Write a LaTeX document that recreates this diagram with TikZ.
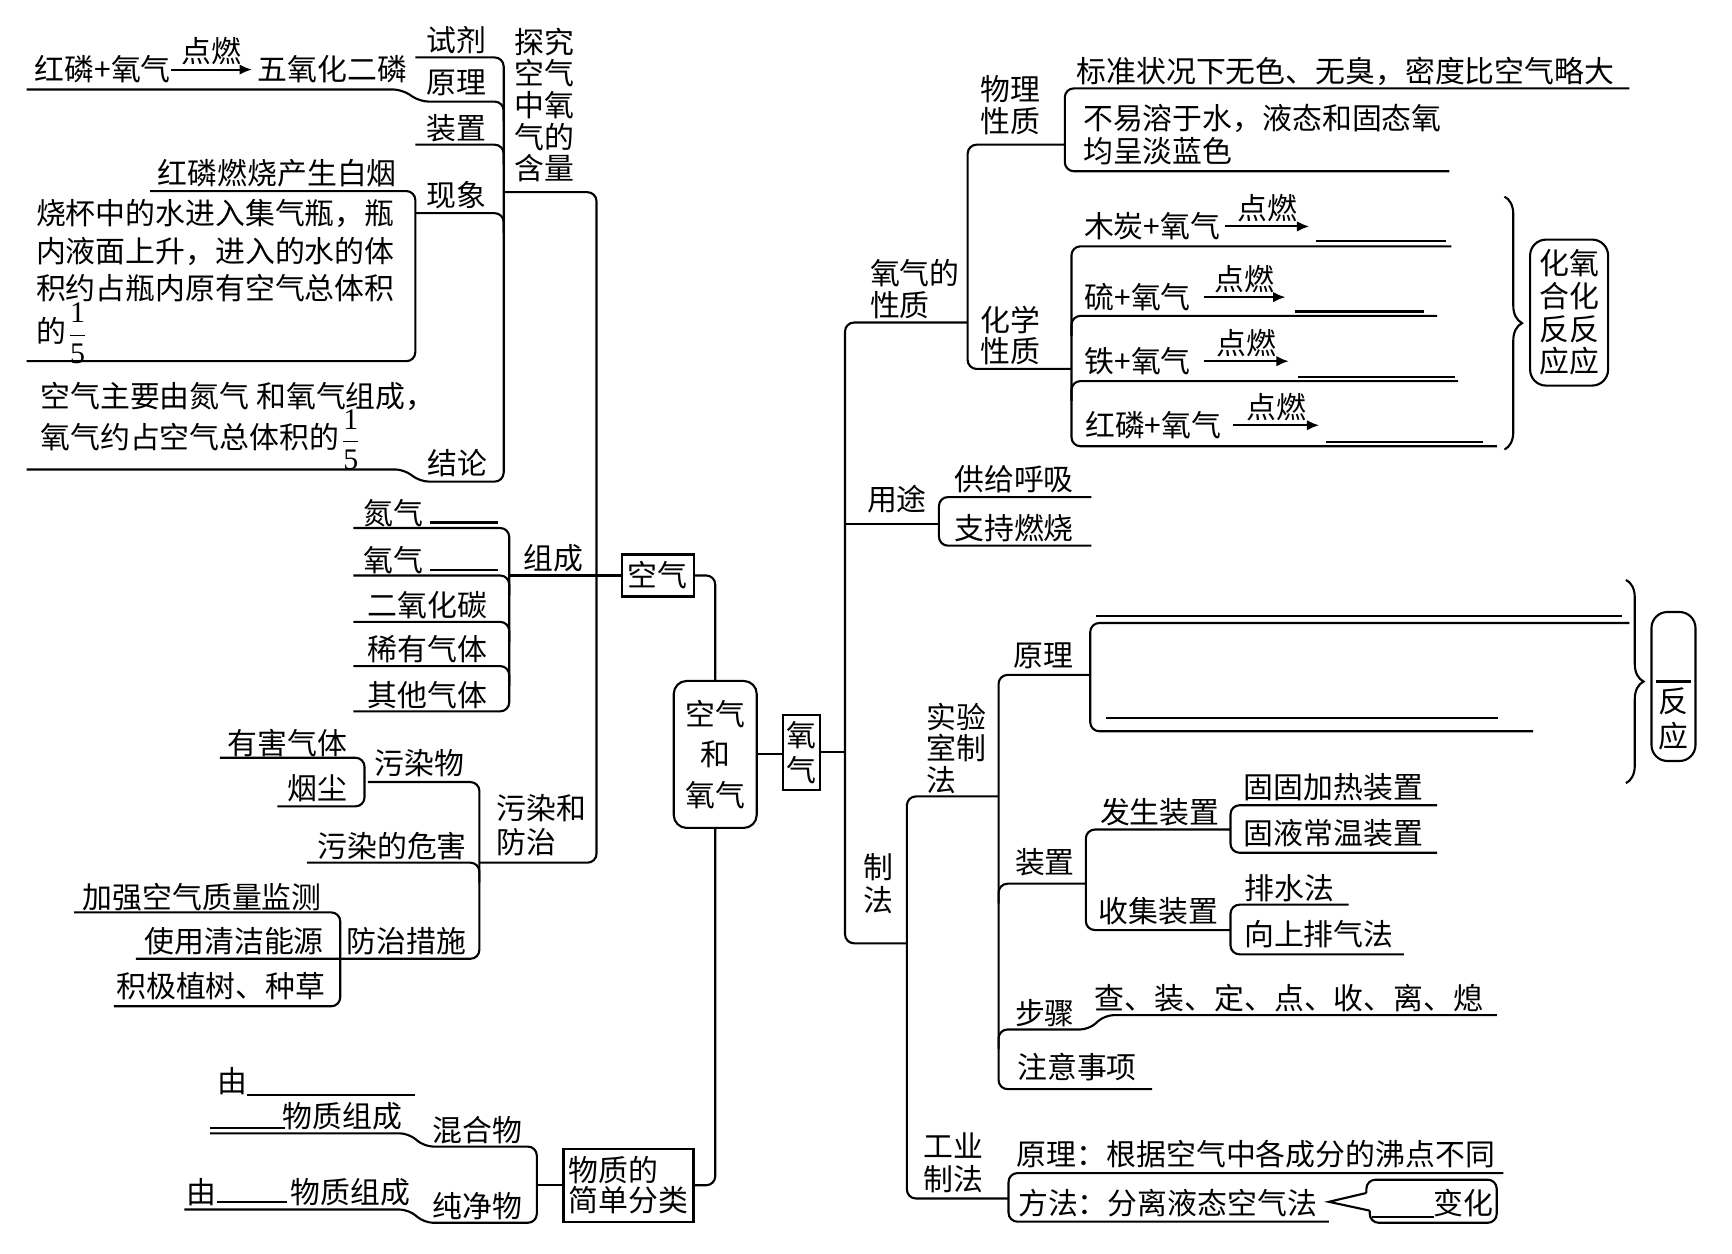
\documentclass[tikz,border=0pt]{standalone}
\usepackage{amsmath}
\usepackage{fontspec}
\setmainfont{Noto Sans CJK SC}
\newfontfamily\digfont{Liberation Serif}
\newcommand{\kfifth}{$\dfrac{\text{\digfont 1}}{\text{\digfont 5}}$}
\usetikzlibrary{arrows.meta,decorations.pathreplacing}

\tikzset{kz/.style={font=\fontsize{8.5}{9.3}\selectfont,inner sep=0pt,align=center},
         kzl/.style={kz,align=left,anchor=west},
         kbox/.style={kz,draw,line width=0.6pt},
         kln/.style={line width=0.6pt,rounded corners=0.9mm},
         kblank/.style={line width=0.6pt},
         kfire/.style={line width=0.6pt,-{Latex[length=3.5pt,width=3pt]}},
         kbrace/.style={line width=0.6pt,decorate,decoration={brace,amplitude=5pt}}}

\begin{document}
\begin{tikzpicture}[x=0.11046mm,y=-0.11046mm]
  \useasboundingbox (0,0) rectangle (1568,1135);
  % centre boxes
  \node[kbox,rounded corners=1.3mm,minimum width=8.3mm,minimum height=14.7mm,font=\fontsize{8.5}{11.5}\selectfont] (kqyq) at (647.5,683) {空气\\和\\氧气};
  \node[kbox,minimum width=3.65mm,minimum height=7.5mm,font=\fontsize{8.5}{10}\selectfont] (yq) at (725.5,681) {氧\\气};
  \node[kbox,minimum width=7.2mm,minimum height=4.2mm] (kq) at (595.5,521) {空气};
  \node[kbox,align=left,minimum width=13mm,minimum height=7.3mm,font=\fontsize{8.5}{8.6}\selectfont] (wzfl) at (569,1073) {物质的\\简单分类};
  \coordinate (rsp) at (765,683);
  \draw[kln] (kq.east) -| (kqyq.north);
  \draw[kln] (kqyq.south) |- (wzfl.east);
  \draw[kln] (kqyq.east) -- (kqyq.east -| yq.west);
  \draw[kln] (yq.east) -- (yq.east -| rsp);

  % ---------- left: air ----------
  \draw[kln] (456,174) -- (540,174) -- (540,781) -- (434,781);
  \draw[kln] (kq.west) -- (461,521);
  % explore oxygen content
  \node[kz,font=\fontsize{8.5}{9}\selectfont] (tj) at (493,95) {探究\\空气\\中氧\\气的\\含量};
  \node[kz] (sj) at (413,36) {试剂};
  \node[kz] (yl1) at (413,75) {原理};
  \node[kz] (zz1) at (413,116) {装置};
  \node[kz] (xx) at (413,177) {现象};
  \node[kz] (jl) at (414,419) {结论};
  \node[kz] (hl1) at (93,63) {红磷+氧气};
  \node[kz] (wy) at (301,63) {五氧化二磷};
  \draw[kfire] (hl1.east) -- ([xshift=-1.5pt]wy.west) node[midway,above=1pt,kz] (dr1) {点燃};
  \draw[kln] (376,52) -- (456,52) -- (456,436) -- (380,436) -- (366,425) -- (24,425);
  \draw[kln] (24,81) -- (364,81) -- (380,92) -- (456,92) -- (456,110);
  \foreach \y in {131,193} \draw[kln] (376,\y) -- (456,\y) -- (456,{\y+18});
  \node[kz] (xx1) at (251,157) {红磷燃烧产生白烟};
  \node[kzl,font=\fontsize{8.5}{10.7}\selectfont] (xx2) at (32,227) {烧杯中的水进入集气瓶，瓶\\内液面上升，进入的水的体\\积约占瓶内原有空气总体积};
  \node[kzl] (xx3) at (32,302) {的\kfifth};
  \draw[kln] (136,173) -- (376,173) -- (376,327) -- (24,327);
  \node[kzl] (jl1) at (36,359) {空气主要由氮气 和氧气组成，};
  \node[kzl] (jl2) at (36,398) {氧气约占空气总体积的\kfifth};
  % composition
  \node[kz] (zc) at (501,505) {组成};
  \node[kz] (dq) at (356,465) {氮气};
  \node[kz] (oq) at (356,507) {氧气};
  \node[kz] (eyht) at (387,548) {二氧化碳};
  \node[kz] (xyqt) at (387,588) {稀有气体};
  \node[kz] (qtqt) at (387,629) {其他气体};
  \draw[kblank] (389,473) -- (451,473);
  \draw[kblank] (389,516) -- (451,516);
  \draw[kln] (320,478) -- (461,478) -- (461,644) -- (320,644);
  \foreach \y in {521,563,603} \draw[kln] (320,\y) -- (461,\y) -- (461,{\y+18});
  % pollution
  \node[kzl,font=\fontsize{8.5}{9.4}\selectfont] (wrfz) at (449,747) {污染和\\防治};
  \node[kz] (wrw) at (380,691) {污染物};
  \node[kz] (yhqt) at (260,673) {有害气体};
  \node[kz] (yc) at (287,714) {烟尘};
  \node[kz] (wrwh) at (355,766) {污染的危害};
  \node[kz] (fzcs) at (368,852) {防治措施};
  \node[kz] (jq) at (183,812) {加强空气质量监测};
  \node[kz] (qj) at (212,852) {使用清洁能源};
  \node[kz] (zs) at (200,893) {积极植树、种草};
  \draw[kln] (333,708) -- (434,708) -- (434,868) -- (123,868);
  \draw[kln] (278,781) -- (434,781) -- (434,799);
  \draw[kln] (199,686) -- (330,686) -- (330,730) -- (251,730);
  \draw[kln] (67,826) -- (308,826) -- (308,911) -- (103,911);
  % classification
  \node[kz] (hhw) at (432,1023) {混合物};
  \node[kz] (cjw) at (432,1092) {纯净物};
  \node[kz] (you1) at (210,979) {由};
  \node[kz] (zc1) at (310,1011) {物质组成};
  \node[kz] (you2) at (182,1079) {由};
  \node[kz] (zc2) at (317,1079) {物质组成};
  \draw[kblank] (224,991) -- (376,991);
  \draw[kblank] (190,1021) -- (258,1021);
  \draw[kblank] (196,1088) -- (260,1088);
  \draw[kln] (190,1026) -- (370,1026) -- (384,1038) -- (486,1038) -- (486,1107) -- (384,1107) -- (370,1095) -- (167,1095);
  \draw[kln] (wzfl.west) -- (486,1073);

  % ---------- right: oxygen ----------
  \draw[kln] (876,292) -- (765,292) -- (765,854) -- (821,854);
  \draw[kln] (765,474) -- (850,474);
  % properties
  \node[kzl,font=\fontsize{8.5}{9}\selectfont] (yqxz) at (787,261.5) {氧气的\\性质};
  \node[kz,font=\fontsize{8.5}{9.1}\selectfont] (wlxz) at (915,95.5) {物理\\性质};
  \node[kz,font=\fontsize{8.5}{8.8}\selectfont] (hxxz) at (915,304) {化学\\性质};
  \node[kz] (wl1) at (1218,65) {标准状况下无色、无臭，密度比空气略大};
  \node[kzl,font=\fontsize{8.5}{9.4}\selectfont] (wl2) at (980,122) {不易溶于水，液态和固态氧\\均呈淡蓝色};
  \draw[kln] (964,131) -- (876,131) -- (876,334) -- (970,334);
  \draw[kln] (1475,80) -- (964,80) -- (964,155) -- (1312,155);
  \draw[kln] (1314,223) -- (970,223) -- (970,404) -- (1355,404);
  \foreach \xe/\y in {1301/286,1320/345} \draw[kln] (\xe,\y) -- (970,\y) -- (970,{\y+18});
  \node[kz] (mt) at (1043,205) {木炭+氧气};
  \node[kz] (ll) at (1030,269) {硫+氧气};
  \node[kz] (tt) at (1030,327) {铁+氧气};
  \node[kz] (hl2) at (1044,385) {红磷+氧气};
  \draw[kfire] (mt.east) ++(4,0) -- ++(76,0) node[midway,above=1pt,kz] (dr2) {点燃};
  \draw[kfire] (ll.east) ++(11,0) -- ++(74,0) node[midway,above=1pt,kz] (dr3) {点燃};
  \draw[kfire] (tt.east) ++(11,0) -- ++(77,0) node[midway,above=1pt,kz] (dr4) {点燃};
  \draw[kfire] (hl2.east) ++(10,0) -- ++(78,0) node[midway,above=1pt,kz] (dr5) {点燃};
  \draw[kblank] (1191,218) -- (1309,218);
  \draw[kblank] (1172,282) -- (1289,282);
  \draw[kblank] (1175,341) -- (1317,341);
  \draw[kblank] (1200,400) -- (1343,400);
  \draw[kbrace] (1362,178) -- (1362,407);
  \node[kbox,rounded corners=1.6mm,minimum width=7.8mm,minimum height=14.6mm] (hhfy) at (1420.5,283) {化氧\\合化\\反反\\应应};
  % uses
  \node[kz] (yt) at (812,452) {用途};
  \node[kz] (gghx) at (918,434) {供给呼吸};
  \node[kz] (zcrs) at (918,478) {支持燃烧};
  \draw[kln] (988,450) -- (850,450) -- (850,494) -- (988,494);
  % preparation
  \node[kz,font=\fontsize{8.5}{9.4}\selectfont] (zf) at (795,800) {制\\法};
  \node[kzl,font=\fontsize{8.5}{8.95}\selectfont] (sys) at (838,677.5) {实验\\室制\\法};
  \node[kz,font=\fontsize{8.5}{9.4}\selectfont] (gy) at (863,1053) {工业\\制法};
  \draw[kln] (904,721) -- (821,721) -- (821,1085) -- (913,1085);
  \node[kz] (yl2) at (945,594) {原理};
  \node[kz] (zz2) at (946,781) {装置};
  \node[kz] (bz) at (946,917) {步骤};
  \node[kz] (zysx) at (975,966) {注意事项};
  \draw[kln] (987,611) -- (904,611) -- (904,986) -- (1043,986);
  \draw[kln] (983,800) -- (904,800) -- (904,818);
  \draw[kln] (1355,919) -- (1000,919) -- (986,932) -- (904,932) -- (904,950);
  \node[kz] (bz1) at (1167,904) {查、装、定、点、收、离、熄};
  \draw[kblank] (992,558) -- (1468,558);
  \draw[kblank] (1001,650) -- (1356,650);
  \draw[kln] (1475,564) -- (987,564) -- (987,662) -- (1388,662);
  \draw[kbrace] (1472,525) -- (1472,709);
  \node[kbox,rounded corners=1.6mm,minimum width=4.4mm,minimum height=14.9mm] (fy) at (1515,621.5) {};
  \node[kz,font=\fontsize{8.5}{10}\selectfont] (fy1) at (1515,651) {反\\应};
  \draw[kblank] (1499,617) -- (1531,617);
  % apparatus
  \node[kz] (fszz) at (1050,735) {发生装置};
  \node[kz] (sjzz) at (1049,825) {收集装置};
  \node[kz] (gg) at (1207,713) {固固加热装置};
  \node[kz] (gyc) at (1207,754) {固液常温装置};
  \node[kz] (psf) at (1167,804) {排水法};
  \node[kz] (xs) at (1194,846) {向上排气法};
  \draw[kln] (1114,751) -- (983,751) -- (983,842) -- (1114,842);
  \draw[kln] (1301,729) -- (1114,729) -- (1114,772) -- (1301,772);
  \draw[kln] (1221,819) -- (1114,819) -- (1114,864) -- (1271,864);
  % industry
  \node[kz] (gy1) at (1137,1045) {原理：根据空气中各成分的沸点不同};
  \node[kz] (gy2) at (1057,1089) {方法：分离液态空气法};
  \draw[kln] (1361,1062) -- (913,1062) -- (913,1106) -- (1203,1106);
  \node[kz] (bh) at (1325,1089) {变化};
  \draw[kblank] (1242,1102) -- (1298,1102);
  \draw[kln] (1237,1080) -- (1237,1068) -- (1355,1068) -- (1355,1107) -- (1240,1107) -- (1240,1096);
  \draw[kblank] (1237,1080) -- (1203,1088) -- (1240,1096);
\end{tikzpicture}
\end{document}
